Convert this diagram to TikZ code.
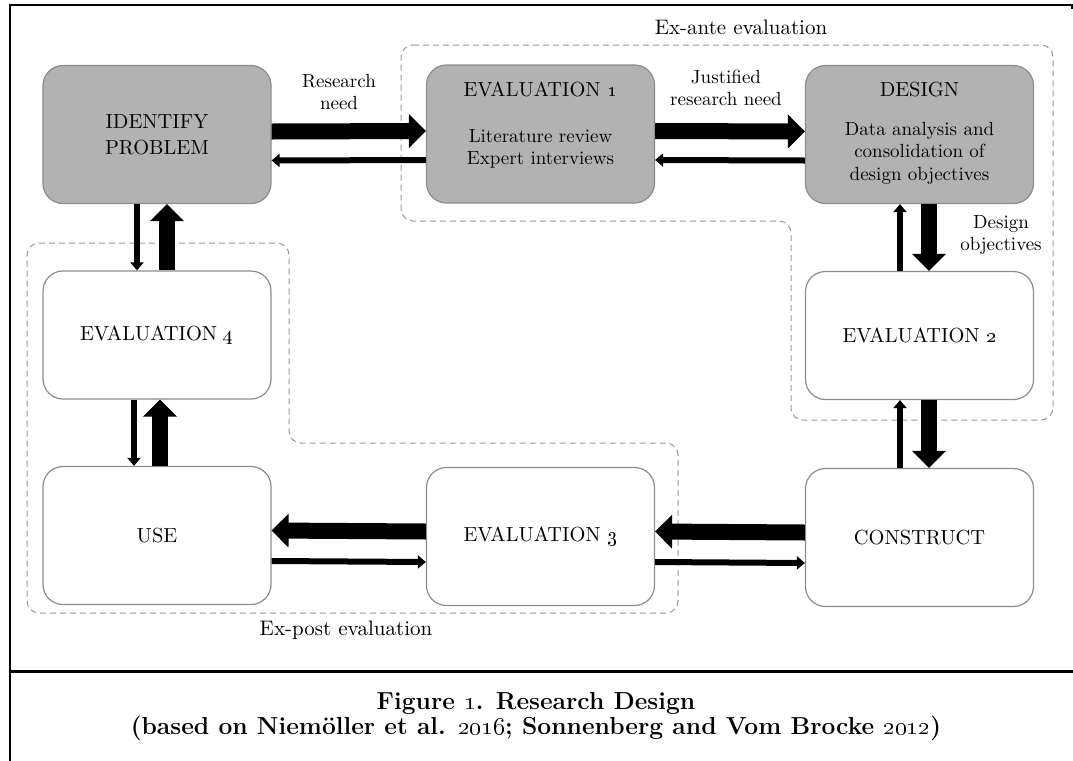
\documentclass[tikz,border=0pt]{standalone}
\usepackage{tikz}
\usetikzlibrary{arrows.meta,positioning}

\tikzset{
  phase/.style={draw=black!45, line width=0.6pt, rounded corners=10pt,
    minimum width=114pt, minimum height=69pt, inner sep=0pt, align=center,
    font=\fontsize{10.2}{13}\selectfont},
  phasegray/.style={phase, fill=black!30},
  midrow/.style={minimum height=64pt},
  heading/.style={font=\fontsize{10.2}{13}\selectfont, inner sep=0pt},
  note/.style={font=\fontsize{9.5}{11.2}\selectfont, align=center, inner sep=0pt},
  region/.style={draw=black!40, line width=0.5pt, dash pattern=on 3pt off 2pt,
    rounded corners=6pt},
  regionlabel/.style={font=\fontsize{10.5}{12}\selectfont, inner sep=0pt},
  bigarrow/.style={line width=8pt, -{Triangle[width=16.5pt,length=8.5pt]}},
  smallarrow/.style={line width=3pt, -{Triangle[width=6.5pt,length=4pt]}}
}

\begin{document}
\begin{tikzpicture}[x=0.5pt, y=-0.5pt]
   \useasboundingbox (0,0) rectangle (1073,761);
   % Frame
   \draw[line width=1.2pt] (10,761) -- (10,5) -- (1072,5) -- (1072,9);
   \draw[line width=1.5pt] (10,671) -- (1073,671);
   % Evaluation regions
   \draw[region] (401,45) -- (1053,45) -- (1053,420) -- (791,420)
      -- (791,221) -- (401,221) -- cycle;
   \draw[region] (27,243) -- (289,243) -- (289,443) -- (678,443)
      -- (678,613) -- (27,613) -- cycle;
   \node[regionlabel] (exante) at (741,27) {Ex-ante evaluation};
   \node[regionlabel] (expost) at (346,630) {Ex-post evaluation};
   % Top row
   \node[phasegray] (idp) at (157,134.5) {IDENTIFY\\PROBLEM};
   \node[phasegray] (ev1) at (540.5,134) {};
   \node[heading] (ev1head) at ([yshift=-12.5pt]ev1.north) {EVALUATION \oldstylenums{1}};
   \node[note] (ev1text) at ([yshift=-7.5pt]ev1.center) {Literature review\\Expert interviews};
   \node[phasegray] (dsg) at (919.5,134.5) {};
   \node[heading] (dsghead) at ([yshift=-12.5pt]dsg.north) {DESIGN};
   \node[note] (dsgtext) at ([yshift=-9.25pt]dsg.center) {Data analysis and\\consolidation of\\design objectives};
   % Middle row
   \node[phase,midrow] (ev4) at (157,335) {EVALUATION \oldstylenums{4}};
   \node[phase,midrow] (ev2) at (919.5,335.5) {EVALUATION \oldstylenums{2}};
   % Bottom row
   \node[phase] (use) at (157,535.5) {USE};
   \node[phase] (ev3) at (540.5,536.5) {EVALUATION \oldstylenums{3}};
   \node[phase] (cst) at (919.5,537.5) {CONSTRUCT};
   % Arrows along the top
   \draw[bigarrow] ([yshift=1.5pt]idp.east) -- ([yshift=1.5pt]ev1.west);
   \draw[smallarrow] ([yshift=-13pt]ev1.west) -- ([yshift=-13pt]idp.east);
   \draw[bigarrow] ([yshift=1.5pt]ev1.east) -- ([yshift=1.5pt]dsg.west);
   \draw[smallarrow] ([yshift=-13pt]dsg.west) -- ([yshift=-13pt]ev1.east);
   \node[note] (need) at (339,92) {Research\\need};
   \node[note] (justified) at (726,88) {Justified\\research need};
   % Arrows on the right
   \draw[bigarrow] ([xshift=4.75pt]dsg.south) -- ([xshift=4.75pt]ev2.north);
   \draw[smallarrow] ([xshift=-9.75pt]ev2.north) -- ([xshift=-9.75pt]dsg.south);
   \draw[bigarrow] ([xshift=4.75pt]ev2.south) -- ([xshift=4.75pt]cst.north);
   \draw[smallarrow] ([xshift=-9.75pt]cst.north) -- ([xshift=-9.75pt]ev2.south);
   \node[note] (objectives) at (1001,235) {Design\\objectives};
   % Arrows along the bottom
   \draw[bigarrow] ([yshift=2.5pt]cst.west) -- ([yshift=2.5pt]ev3.east);
   \draw[smallarrow] ([yshift=-12.75pt]ev3.east) -- ([yshift=-12.75pt]cst.west);
   \draw[bigarrow] ([yshift=2.5pt]ev3.west) -- ([yshift=2.5pt]use.east);
   \draw[smallarrow] ([yshift=-12.75pt]use.east) -- ([yshift=-12.75pt]ev3.west);
   % Arrows on the left
   \draw[smallarrow] ([xshift=-10pt]idp.south) -- ([xshift=-10pt]ev4.north);
   \draw[bigarrow] ([xshift=5pt]ev4.north) -- ([xshift=5pt]idp.south);
   \draw[smallarrow] ([xshift=-11.5pt]ev4.south) -- ([xshift=-11.5pt]use.north);
   \draw[bigarrow] ([xshift=1.5pt]use.north) -- ([xshift=1.5pt]ev4.south);
   % Caption
   \node[font=\bfseries\fontsize{12.3}{12.5}\selectfont, align=center] (caption) at (536,717)
      {Figure \oldstylenums{1}. Research Design\\(based on Niemöller et al. \oldstylenums{2016}; Sonnenberg and Vom Brocke \oldstylenums{2012})};
\end{tikzpicture}
\end{document}
